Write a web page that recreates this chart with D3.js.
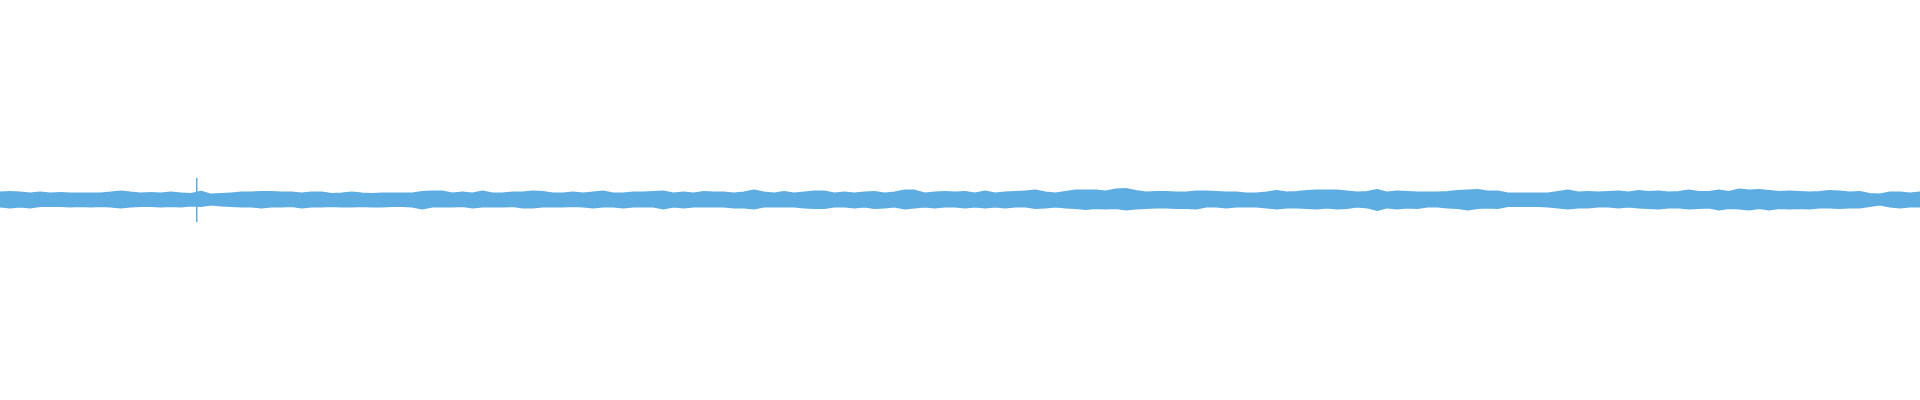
<!DOCTYPE html>
<html>
<head>
<meta charset="utf-8">
<script src="https://cdn.jsdelivr.net/npm/d3@7"></script>
<style>
  html, body { margin: 0; padding: 0; background: #ffffff; }
  svg { display: block; }
</style>
</head>
<body>
<svg id="chart" width="1920" height="400"></svg>
<script>
// Waveform envelope, one entry per block (192 blocks across the track)
const maxVals = [
  0.038,0.040,0.037,0.033,0.037,0.033,0.035,0.033,0.033,0.033,0.033,0.037,0.043,0.037,0.033,0.035,0.033,0.037,0.033,0.030,0.042,0.027,0.030,0.033,0.037,0.038,0.040,0.040,0.038,0.037,0.033,0.037,
  0.037,0.030,0.033,0.038,0.033,0.030,0.033,0.033,0.033,0.033,0.040,0.043,0.042,0.033,0.037,0.033,0.042,0.033,0.033,0.037,0.038,0.043,0.040,0.033,0.033,0.037,0.033,0.037,0.042,0.033,0.033,0.037,
  0.037,0.040,0.043,0.033,0.037,0.033,0.040,0.037,0.037,0.033,0.037,0.048,0.037,0.033,0.040,0.033,0.037,0.042,0.043,0.033,0.037,0.033,0.037,0.040,0.033,0.037,0.048,0.047,0.033,0.037,0.040,0.037,
  0.040,0.033,0.042,0.033,0.037,0.040,0.043,0.047,0.037,0.033,0.040,0.047,0.047,0.048,0.043,0.053,0.055,0.045,0.037,0.040,0.040,0.038,0.037,0.042,0.043,0.040,0.037,0.038,0.033,0.033,0.037,0.045,
  0.037,0.040,0.045,0.048,0.048,0.048,0.043,0.037,0.040,0.050,0.037,0.043,0.040,0.037,0.037,0.038,0.040,0.045,0.048,0.050,0.042,0.043,0.033,0.032,0.033,0.033,0.033,0.040,0.048,0.037,0.040,0.037,
  0.040,0.042,0.037,0.045,0.040,0.043,0.037,0.040,0.048,0.040,0.040,0.048,0.040,0.053,0.048,0.050,0.045,0.040,0.043,0.040,0.038,0.040,0.045,0.043,0.037,0.040,0.030,0.028,0.037,0.037,0.033,0.038
];
const minVals = [
  -0.033,-0.037,-0.033,-0.037,-0.030,-0.030,-0.030,-0.033,-0.030,-0.033,-0.030,-0.033,-0.038,-0.033,-0.030,-0.030,-0.033,-0.030,-0.033,-0.028,-0.030,-0.023,-0.027,-0.030,-0.033,-0.033,-0.037,-0.033,-0.033,-0.030,-0.037,-0.033,
  -0.033,-0.030,-0.033,-0.033,-0.030,-0.033,-0.033,-0.030,-0.030,-0.033,-0.043,-0.033,-0.033,-0.033,-0.030,-0.037,-0.033,-0.033,-0.033,-0.030,-0.037,-0.037,-0.033,-0.033,-0.033,-0.030,-0.033,-0.037,-0.033,-0.033,-0.037,-0.033,
  -0.033,-0.033,-0.043,-0.033,-0.037,-0.033,-0.033,-0.033,-0.033,-0.037,-0.037,-0.043,-0.033,-0.033,-0.033,-0.033,-0.037,-0.040,-0.040,-0.033,-0.033,-0.037,-0.033,-0.040,-0.037,-0.033,-0.042,-0.037,-0.033,-0.037,-0.033,-0.033,
  -0.037,-0.033,-0.037,-0.033,-0.037,-0.033,-0.033,-0.040,-0.037,-0.033,-0.037,-0.040,-0.045,-0.040,-0.043,-0.040,-0.047,-0.043,-0.040,-0.037,-0.037,-0.040,-0.040,-0.043,-0.033,-0.033,-0.037,-0.033,-0.033,-0.033,-0.037,-0.043,
  -0.037,-0.037,-0.040,-0.043,-0.037,-0.043,-0.040,-0.033,-0.037,-0.050,-0.037,-0.042,-0.037,-0.040,-0.033,-0.033,-0.037,-0.040,-0.047,-0.040,-0.037,-0.040,-0.030,-0.030,-0.030,-0.030,-0.033,-0.037,-0.043,-0.037,-0.037,-0.033,
  -0.033,-0.037,-0.033,-0.037,-0.040,-0.043,-0.037,-0.037,-0.043,-0.040,-0.037,-0.047,-0.040,-0.043,-0.047,-0.040,-0.047,-0.040,-0.043,-0.040,-0.042,-0.037,-0.037,-0.040,-0.037,-0.037,-0.030,-0.023,-0.033,-0.037,-0.033,-0.033
];
// Isolated transient (position in blocks, peak and trough)
const spikePos = [19.5];
const spikeMax = [0.11];
const spikeMin = [-0.11];

const W = 1920, H = 400;
const color = "#5dade2";
const svg = d3.select("#chart");

const x = d3.scaleLinear().domain([0, maxVals.length - 1]).range([0, W]);
const y = d3.scaleLinear().domain([-1, 1]).range([H, 0]);

const pts = maxVals.map((v, i) => ({ i, hi: v, lo: minVals[i] }));

const area = d3.area()
  .curve(d3.curveLinear)
  .x(d => x(d.i))
  .y0(d => y(d.lo))
  .y1(d => y(d.hi));

svg.append("path")
  .datum(pts)
  .attr("d", area)
  .attr("fill", color)
  .attr("stroke", color)
  .attr("stroke-width", 2)
  .attr("stroke-linejoin", "round");

svg.selectAll("rect.spike")
  .data(spikePos.map((p, k) => ({ p, hi: spikeMax[k], lo: spikeMin[k] })))
  .join("rect")
  .attr("class", "spike")
  .attr("x", d => Math.floor(x(d.p)))
  .attr("width", 1.5)
  .attr("y", d => y(d.hi))
  .attr("height", d => y(d.lo) - y(d.hi))
  .attr("fill", color);
</script>
</body>
</html>
